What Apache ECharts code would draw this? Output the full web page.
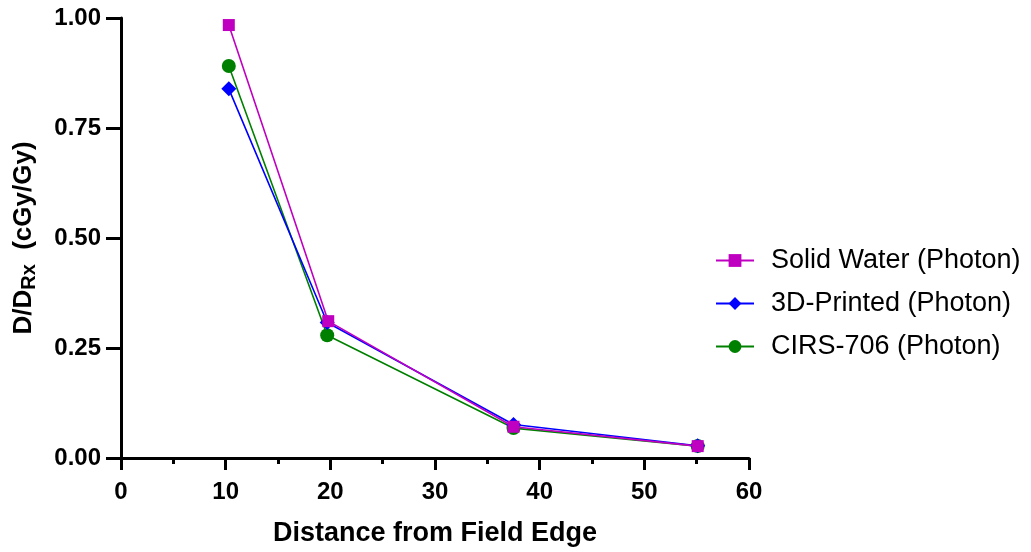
<!DOCTYPE html>
<html>
<head>
<meta charset="utf-8">
<script src="https://cdn.jsdelivr.net/npm/echarts@6/dist/echarts.min.js"></script>
<style>
  html, body { margin: 0; padding: 0; background: #fff; }
  #chart { width: 1031px; height: 552px; }
</style>
</head>
<body>
<div id="chart"></div>
<script>
// distance from field edge, one list per phantom
var xSolid = [10.3, 19.8, 37.5, 55.1];
var ySolid = [0.984, 0.311, 0.071, 0.027];
var xPrint = [10.3, 19.7, 37.5, 55.1];
var yPrint = [0.839, 0.308, 0.076, 0.028];
var xCirs = [10.3, 19.7, 37.5, 55.1];
var yCirs = [0.891, 0.279, 0.068, 0.027];
var names = ['Solid Water (Photon)', '3D-Printed (Photon)', 'CIRS-706 (Photon)'];

var pairs = function(xs, ys){
  return xs.map(function(x, i){ return [x, ys[i]]; });
};

var font = 'Liberation Sans, Arial, sans-serif';
var mCharts = echarts.init(document.getElementById('chart'));

var mkSeries = function(name, data, color, symbol, size, z){
  return {
    name: name,
    type: 'line',
    data: data,
    symbol: symbol,
    symbolSize: size,
    lineStyle: { color: color, width: 1.6 },
    itemStyle: { color: color },
    z: z
  };
};

var option = {
  animation: false,
  textStyle: { fontFamily: font },
  grid: { left: 121, right: 282, top: 18, bottom: 93 },
  legend: {
    orient: 'vertical',
    left: 710,
    top: 242,
    itemGap: 16,
    itemWidth: 38,
    itemHeight: 16,
    textStyle: { fontSize: 27, color: '#000', fontFamily: font, padding: [0, 0, 0, 12] },
    data: names
  },
  xAxis: {
    type: 'value',
    min: 0,
    max: 60,
    interval: 10,
    name: 'Distance from Field Edge',
    nameLocation: 'middle',
    nameGap: 62,
    nameTextStyle: { fontSize: 27, fontWeight: 'bold', color: '#000', fontFamily: font },
    axisLine: { show: true, lineStyle: { color: '#000', width: 3 } },
    axisTick: { show: true, length: 12, lineStyle: { color: '#000', width: 3 } },
    minorTick: { show: true, splitNumber: 2, length: 6, lineStyle: { color: '#000', width: 3 } },
    axisLabel: { fontSize: 24, fontWeight: 'bold', color: '#000', margin: 22 },
    splitLine: { show: false }
  },
  yAxis: {
    type: 'value',
    min: 0,
    max: 1,
    interval: 0.25,
    name: '{a|D/D}{b|Rx}{a|  (cGy/Gy)}',
    nameLocation: 'middle',
    nameRotate: 90,
    nameGap: 82,
    nameTextStyle: {
      color: '#000',
      rich: {
        a: { fontSize: 26, fontWeight: 'bold', color: '#000', fontFamily: font },
        b: { fontSize: 20, fontWeight: 'bold', color: '#000', fontFamily: font, verticalAlign: 'bottom', padding: [10, 0, 0, 0] }
      }
    },
    axisLine: { show: true, lineStyle: { color: '#000', width: 3 } },
    axisTick: { show: true, length: 15, lineStyle: { color: '#000', width: 3 } },
    axisLabel: {
      fontSize: 24, fontWeight: 'bold', color: '#000', margin: 20,
      formatter: function(v){ return v.toFixed(2); }
    },
    splitLine: { show: false }
  },
  series: [
    // magenta drawn on top, green underneath
    mkSeries(names[0], pairs(xSolid, ySolid), '#C000C0', 'rect', 12, 5),
    mkSeries(names[1], pairs(xPrint, yPrint), '#0000FF', 'diamond', 15, 4),
    mkSeries(names[2], pairs(xCirs, yCirs), '#008000', 'circle', 14, 3)
  ]
};
mCharts.setOption(option);
</script>
</body>
</html>
